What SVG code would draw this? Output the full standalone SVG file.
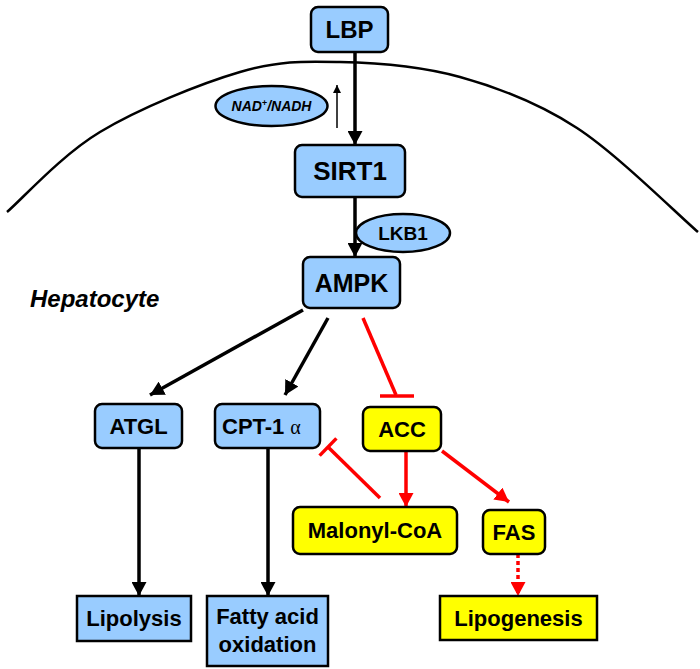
<svg xmlns="http://www.w3.org/2000/svg" width="700" height="669" viewBox="0 0 700 669">
<style>
.box{stroke:#000;stroke-width:2.5}
.blue{fill:#99ccff}
.yel{fill:#ffff00}
.t{font-family:"Liberation Sans",Arial,sans-serif;font-weight:bold;fill:#000;text-anchor:middle}
.bk{stroke:#000;stroke-width:3.5;fill:none}
.rd{stroke:#ff0000;stroke-width:3.5;fill:none}
</style>
<defs>
<marker id="ab" markerUnits="userSpaceOnUse" markerWidth="15" markerHeight="15" refX="14" refY="7.5" orient="auto"><path d="M0,0 L14,7.5 L0,15 z" fill="#000"/></marker>
<marker id="ar" markerUnits="userSpaceOnUse" markerWidth="15" markerHeight="15" refX="14" refY="7.5" orient="auto"><path d="M0,0 L14,7.5 L0,15 z" fill="#ff0000"/></marker>
<marker id="as" markerUnits="userSpaceOnUse" markerWidth="9" markerHeight="8" refX="8" refY="4" orient="auto"><path d="M0,0 L8,4 L0,8 z" fill="#000"/></marker>
</defs>
<rect width="700" height="669" fill="#fff"/>
<path d="M7,212 C22.5,198.7 61.2,155.3 100,132 C138.8,108.7 200,83.7 240,72 C280,60.3 303.3,61.2 340,62 C376.7,62.8 420.5,66 460,77 C499.5,88 537.3,102.2 577,128 C616.7,153.8 677.8,214.7 698,232" fill="none" stroke="#000" stroke-width="2.5"/>
<text x="30" y="307" font-family="Liberation Sans,Arial,sans-serif" font-weight="bold" font-style="italic" font-size="24">Hepatocyte</text>
<g id="connectors">
<line class="bk" x1="355" y1="52" x2="355" y2="145" marker-end="url(#ab)"/>
<line x1="337" y1="128" x2="337" y2="85" stroke="#000" stroke-width="1.5" marker-end="url(#as)"/>
<line class="bk" x1="355" y1="197" x2="355" y2="257" marker-end="url(#ab)"/>
<line class="bk" x1="303" y1="310" x2="150" y2="395" marker-end="url(#ab)"/>
<line class="bk" x1="328" y1="318" x2="285" y2="395" marker-end="url(#ab)"/>
<line class="rd" x1="363" y1="318" x2="396" y2="395"/>
<line class="rd" x1="380" y1="396" x2="414" y2="396"/>
<line class="bk" x1="139" y1="448" x2="139" y2="596" marker-end="url(#ab)"/>
<line class="bk" x1="268" y1="448" x2="268" y2="596" marker-end="url(#ab)"/>
<line class="rd" x1="406" y1="451" x2="406" y2="507" marker-end="url(#ar)"/>
<line class="rd" x1="442" y1="451" x2="509" y2="502" marker-end="url(#ar)"/>
<line class="rd" x1="380" y1="498" x2="328" y2="447"/>
<line class="rd" x1="319.6" y1="455.6" x2="336.4" y2="438.4"/>
<line class="rd" x1="518" y1="554" x2="518" y2="596" stroke-dasharray="4,3" marker-end="url(#ar)"/>
</g>
<g id="LBP"><rect class="box blue" x="311" y="7" width="77" height="45" rx="7"/><text class="t" x="349.5" y="38" font-size="24">LBP</text></g>
<g id="NAD"><ellipse class="box blue" cx="271.5" cy="106" rx="56" ry="20" stroke-width="2"/><text class="t" x="271.5" y="111" font-size="14" font-style="italic">NAD<tspan font-size="9" dy="-5">+</tspan><tspan dy="5">/NADH</tspan></text></g>
<g id="SIRT1"><rect class="box blue" x="295" y="145" width="110" height="52" rx="7"/><text class="t" x="350" y="180" font-size="26">SIRT1</text></g>
<g id="LKB1"><ellipse class="box blue" cx="403" cy="233" rx="47" ry="19" stroke-width="2"/><text class="t" x="403" y="240" font-size="19">LKB1</text></g>
<g id="AMPK"><rect class="box blue" x="303" y="257" width="97" height="51" rx="7"/><text class="t" x="351.5" y="292" font-size="25">AMPK</text></g>
<g id="ATGL"><rect class="box blue" x="95" y="404" width="87" height="44" rx="7"/><text class="t" x="138.5" y="434" font-size="22">ATGL</text></g>
<g id="CPT1a"><rect class="box blue" x="215" y="404" width="105" height="44" rx="7"/><text class="t" x="222" y="434" font-size="22" style="text-anchor:start">CPT-1<tspan font-family="Liberation Serif,Times New Roman,serif" font-weight="normal" font-size="20" dx="6">α</tspan></text></g>
<g id="ACC"><rect class="box yel" x="363" y="407" width="78" height="44" rx="7"/><text class="t" x="402" y="437" font-size="22">ACC</text></g>
<g id="Malonyl"><rect class="box yel" x="293" y="507" width="164" height="47" rx="7"/><text class="t" x="375" y="538" font-size="22">Malonyl-CoA</text></g>
<g id="FAS"><rect class="box yel" x="483" y="510" width="62" height="44" rx="7"/><text class="t" x="514" y="540" font-size="22">FAS</text></g>
<g id="Lipolysis"><rect class="box blue" x="77" y="596" width="114" height="45"/><text class="t" x="134" y="626" font-size="22">Lipolysis</text></g>
<g id="FAO"><rect class="box blue" x="207" y="596" width="121" height="70"/><text class="t" x="267.5" y="624" font-size="22">Fatty acid</text><text class="t" x="267.5" y="652" font-size="22">oxidation</text></g>
<g id="Lipogenesis"><rect class="box yel" x="440" y="596" width="157" height="44"/><text class="t" x="518.5" y="626" font-size="22">Lipogenesis</text></g>
</svg>
